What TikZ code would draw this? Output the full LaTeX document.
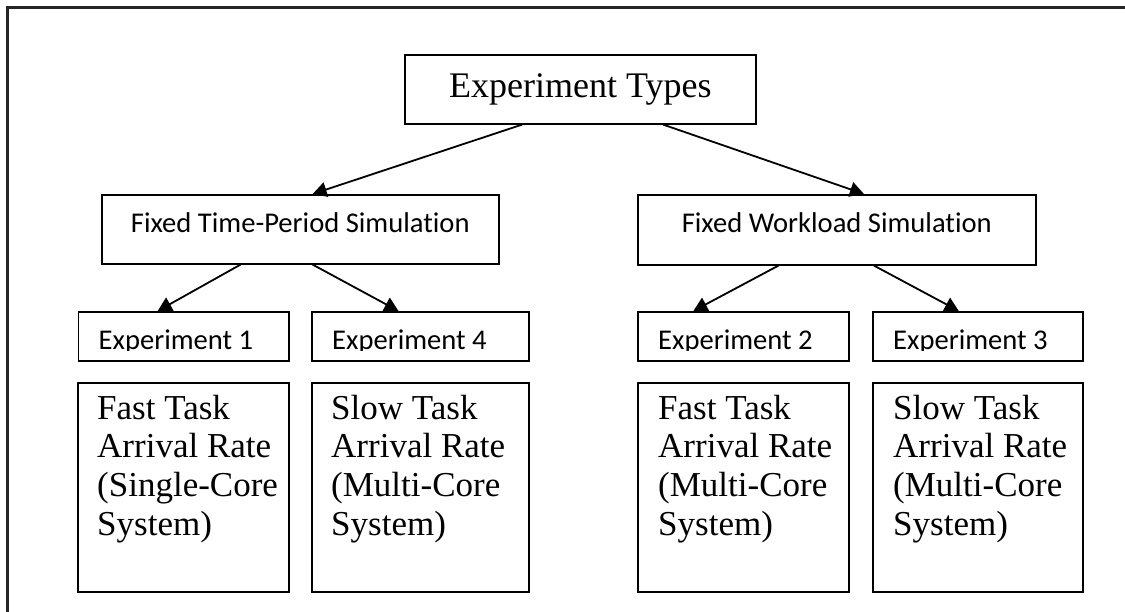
\documentclass[tikz,border=0pt]{standalone}
\usepackage{fontspec}
\setmainfont{Liberation Serif}
\newfontfamily\calfont[Ligatures=NoCommon]{Carlito}
\usetikzlibrary{arrows.meta,calc}

\begin{document}
\begin{tikzpicture}[x=1pt,y=-1pt,
  box/.style={draw=black, line width=1.6pt, inner sep=0pt, anchor=north west},
  arr/.style={line width=1.8pt, -{Triangle[length=14pt,width=15pt]}},
  titletext/.style={anchor=base, inner sep=0pt, font=\fontsize{36}{40}\selectfont},
  simtext/.style={anchor=base, inner sep=0pt, font=\calfont\fontsize{28.6}{34}\selectfont},
  exptext/.style={anchor=base west, inner sep=0pt, font=\calfont\fontsize{28.6}{34}\selectfont},
  desctext/.style={anchor=base west, inner sep=0pt, font=\fontsize{35}{38.8}\selectfont}
]
\useasboundingbox (0,0) rectangle (1125,612);

% outer frame (open at right and bottom)
\draw[line width=2.2pt, black!85] (7.5,612) -- (7.5,7.5) -- (1125,7.5);

% top level
\node[box, minimum width=351pt, minimum height=69pt] (title) at (404,54) {};
\node[titletext] (titlelbl) at ($(title.north)+(0,44)$) {Experiment Types};

% simulation kinds
\node[box, minimum width=397pt, minimum height=69pt] (fts) at (101,194) {};
\node[simtext] (ftslbl) at ($(fts.north)+(0,39)$) {Fixed Time-Period Simulation};
\node[box, minimum width=398pt, minimum height=70pt] (fws) at (637,194) {};
\node[simtext] (fwslbl) at ($(fws.north)+(0,39)$) {Fixed Workload Simulation};

% experiment headers
\node[box, minimum width=210.5pt, minimum height=49pt] (e1) at (77.5,311) {};
\node[box, minimum width=217pt, minimum height=49pt] (e4) at (311,311) {};
\node[box, minimum width=211pt, minimum height=49pt] (e2) at (637,311) {};
\node[box, minimum width=210pt, minimum height=49pt] (e3) at (872,311) {};

% header texts, cut off just below the baseline
\foreach \e/\t in {e1/Experiment 1, e4/Experiment 4, e2/Experiment 2, e3/Experiment 3}{
  \begin{scope}
    \clip ($(\e.north west)+(1,1)$) rectangle ($(\e.south east)+(-1,-11)$);
    \node[exptext] (\e lbl) at ($(\e.north west)+(21,38.5)$) {\t};
  \end{scope}
}

% experiment descriptions
\node[box, minimum width=211pt, minimum height=209pt] (b1) at (77,382) {};
\node[box, minimum width=217pt, minimum height=209pt] (b4) at (311,382) {};
\node[box, minimum width=211pt, minimum height=209pt] (b2) at (637,382) {};
\node[box, minimum width=210pt, minimum height=209pt] (b3) at (872,382) {};

\node[desctext] (b1lbl) at ($(b1.north west)+(20,37)$)
  {\begin{tabular}[t]{@{}l@{}}Fast Task\\Arrival Rate\\(Single-Core\\System)\end{tabular}};
\node[desctext] (b4lbl) at ($(b4.north west)+(20,37)$)
  {\begin{tabular}[t]{@{}l@{}}Slow Task\\Arrival Rate\\(Multi-Core\\System)\end{tabular}};
\node[desctext] (b2lbl) at ($(b2.north west)+(21,37)$)
  {\begin{tabular}[t]{@{}l@{}}Fast Task\\Arrival Rate\\(Multi-Core\\System)\end{tabular}};
\node[desctext] (b3lbl) at ($(b3.north west)+(21,37)$)
  {\begin{tabular}[t]{@{}l@{}}Slow Task\\Arrival Rate\\(Multi-Core\\System)\end{tabular}};

% connectors
\draw[arr] ($(title.south west)!0.335!(title.south east)$) -- ($(fts.north west)!0.531!(fts.north east)$);
\draw[arr] ($(title.south west)!0.735!(title.south east)$) -- ($(fws.north west)!0.568!(fws.north east)$);
\draw[arr] ($(fts.south west)!0.35!(fts.south east)$) -- ($(e1.north west)!0.378!(e1.north east)$);
\draw[arr] ($(fts.south west)!0.531!(fts.south east)$) -- ($(e4.north west)!0.40!(e4.north east)$);
\draw[arr] ($(fws.south west)!0.354!(fws.south east)$) -- ($(e2.north west)!0.265!(e2.north east)$);
\draw[arr] ($(fws.south west)!0.593!(fws.south east)$) -- ($(e3.north west)!0.41!(e3.north east)$);
\end{tikzpicture}
\end{document}
